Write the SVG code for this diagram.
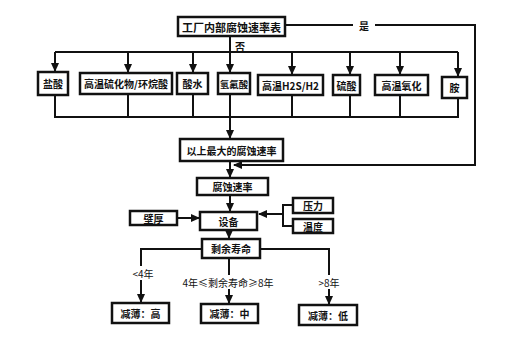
<svg xmlns="http://www.w3.org/2000/svg" width="518" height="347" viewBox="0 0 518 347">
<style>
.box{fill:#fff;stroke:#111;stroke-width:2.5}
.ln{fill:none;stroke:#111;stroke-width:2}
text{font-family:"Noto Sans CJK SC","Noto Sans",sans-serif;font-weight:bold;fill:#111;text-anchor:middle;dominant-baseline:central}
.t10{font-size:10px}
.t9{font-size:9.5px}
.t11{font-size:11px}
.lb{font-size:10px;font-weight:normal}
</style>
<defs>
<marker id="ah" markerWidth="9" markerHeight="8" refX="8" refY="4" orient="auto" markerUnits="userSpaceOnUse">
<path d="M0,0 L9,4 L0,8 Z" fill="#111"/>
</marker>
</defs>
<rect width="518" height="347" fill="#fff"/>
<g id="connectors">
<path class="ln" d="M230,36 V52"/>
<path class="ln" d="M55,52 H458"/>
<path class="ln" d="M55,52 V71" marker-end="url(#ah)"/>
<path class="ln" d="M128,52 V72" marker-end="url(#ah)"/>
<path class="ln" d="M193,52 V72" marker-end="url(#ah)"/>
<path class="ln" d="M230,52 V72" marker-end="url(#ah)"/>
<path class="ln" d="M292,52 V74" marker-end="url(#ah)"/>
<path class="ln" d="M350,52 V74" marker-end="url(#ah)"/>
<path class="ln" d="M400,52 V74" marker-end="url(#ah)"/>
<path class="ln" d="M458,52 V76" marker-end="url(#ah)"/>
<path class="ln" d="M55,95 V117 H458 V98 M128,94 V117 M193,94 V117 M230,94 V117 M292,95 V117 M350,95 V117 M400,95 V117"/>
<path class="ln" d="M230,117 V138" marker-end="url(#ah)"/>
<path class="ln" d="M285,25 H475 V165 H234" marker-end="url(#ah)"/>
<path class="ln" d="M230,161 V177" marker-end="url(#ah)"/>
<path class="ln" d="M230,195 V211" marker-end="url(#ah)"/>
<path class="ln" d="M177,218 H199" marker-end="url(#ah)"/>
<path class="ln" d="M293,205 H283 V226 H293 M283,214 H259" marker-end="url(#ah)"/>
<path class="ln" d="M229,230 V238" marker-end="url(#ah)"/>
<path class="ln" d="M202,249 H141 V302" marker-end="url(#ah)"/>
<path class="ln" d="M229,258 V303" marker-end="url(#ah)"/>
<path class="ln" d="M260,249 H329 V304" marker-end="url(#ah)"/>
<rect x="353" y="18" width="22" height="14" fill="#fff"/>
<text class="t10" x="364" y="25">是</text>
<text class="t10" x="240" y="46">否</text>
<rect x="126" y="266" width="34" height="14" fill="#fff"/>
<text class="lb" x="143" y="273">&lt;4年</text>
<rect x="180" y="275" width="96" height="14" fill="#fff"/>
<text class="lb" x="228" y="282">4年≤剩余寿命≥8年</text>
<rect x="314" y="275" width="30" height="14" fill="#fff"/>
<text class="lb" x="329" y="282">&gt;8年</text>
</g>
<g id="n-top"><rect class="box" x="178" y="17" width="107" height="19"/><text class="t11" x="231.5" y="26.5">工厂内部腐蚀速率表</text></g>
<g id="n-hcl"><rect class="box" x="38" y="72" width="30" height="23"/><text class="t10" x="53" y="83.5">盐酸</text></g>
<g id="n-hts"><rect class="box" x="80" y="73" width="92" height="21"/><text class="t10" x="126" y="83.5">高温硫化物/环烷酸</text></g>
<g id="n-sw"><rect class="box" x="177" y="73" width="31" height="21"/><text class="t10" x="192.5" y="83.5">酸水</text></g>
<g id="n-hf"><rect class="box" x="218" y="73" width="32" height="21"/><text class="t9" x="234" y="83.5">氢氟酸</text></g>
<g id="n-h2s"><rect class="box" x="258" y="75" width="65" height="20"/><text class="t10" x="290.5" y="85">高温H2S/H2</text></g>
<g id="n-h2so4"><rect class="box" x="333" y="75" width="27" height="20"/><text class="t10" x="346.5" y="85">硫酸</text></g>
<g id="n-ox"><rect class="box" x="375" y="75" width="53" height="20"/><text class="t10" x="401.5" y="85">高温氧化</text></g>
<g id="n-amine"><rect class="box" x="442" y="77" width="25" height="21"/><text class="t10" x="454.5" y="87.5">胺</text></g>
<g id="n-max"><rect class="box" x="180" y="139" width="103" height="22"/><text class="t10" x="231.5" y="150">以上最大的腐蚀速率</text></g>
<g id="n-rate"><rect class="box" x="197" y="178" width="71" height="17"/><text class="t10" x="232.5" y="186.5">腐蚀速率</text></g>
<g id="n-equip"><rect class="box" x="200" y="212" width="57" height="18"/><text class="t10" x="228.5" y="221">设备</text></g>
<g id="n-wall"><rect class="box" x="130" y="211" width="47" height="14"/><text class="t10" x="153.5" y="218">壁厚</text></g>
<g id="n-press"><rect class="box" x="293" y="198" width="40" height="15"/><text class="t10" x="313" y="205.5">压力</text></g>
<g id="n-temp"><rect class="box" x="293" y="219" width="40" height="14"/><text class="t10" x="313" y="226">温度</text></g>
<g id="n-life"><rect class="box" x="202" y="239" width="58" height="19"/><text class="t10" x="231" y="248.5">剩余寿命</text></g>
<g id="n-high"><rect class="box" x="112" y="303" width="57" height="20"/><text class="t10" x="140.5" y="313">减薄：高</text></g>
<g id="n-mid"><rect class="box" x="201" y="304" width="57" height="19"/><text class="t10" x="229.5" y="313.5">减薄：中</text></g>
<g id="n-low"><rect class="box" x="299" y="305" width="58" height="20"/><text class="t10" x="328" y="315">减薄：低</text></g>
</svg>
